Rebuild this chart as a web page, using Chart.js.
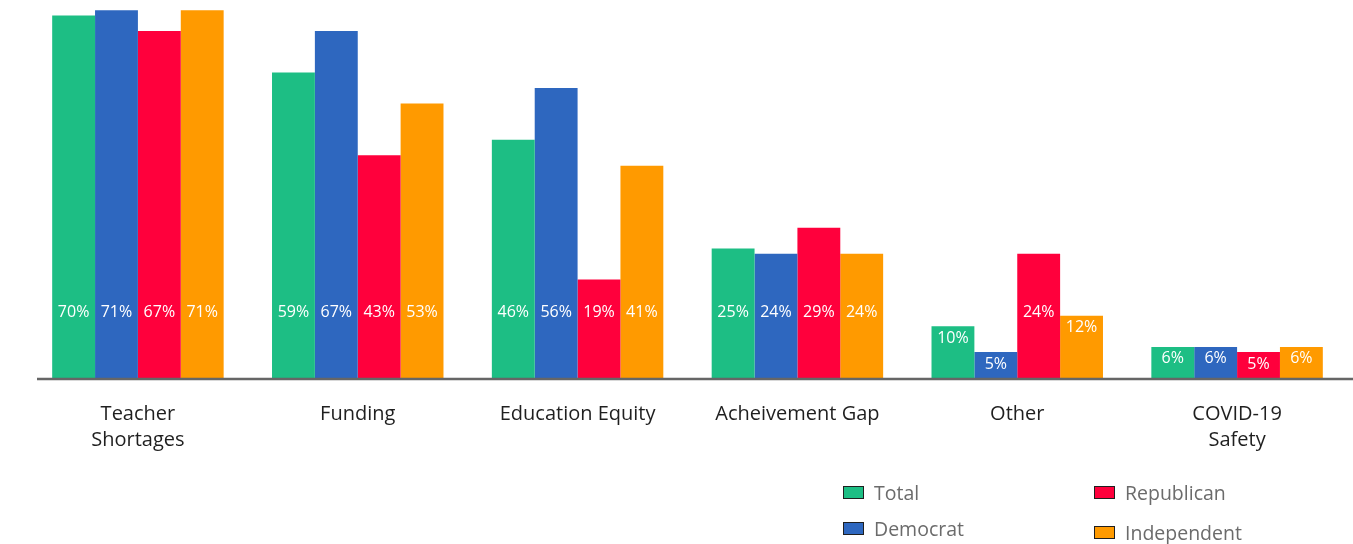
<!DOCTYPE html>
<html lang="en">
<head>
<meta charset="UTF-8" />
<title>Top Education Issues by Party</title>
<script src="https://cdn.jsdelivr.net/npm/chart.js"></script>
<style>
    body {
        margin: 0;
        background: #ffffff;
        font-family: "Open Sans", "Noto Sans", sans-serif;
    }

    .chart-wrap {
        position: relative;
        width: 1353px;
        height: 544px;
    }

    .legend-item {
        position: absolute;
        display: flex;
        align-items: center;
        font-size: 19.5px;
        color: #6b6b6b;
    }

    .legend-item span.swatch {
        display: inline-block;
        width: 19px;
        height: 11px;
        border: 1.5px solid #1f1f1f;
        margin-right: 10px;
    }
</style>
</head>
<body>
<div class="chart-wrap">
    <canvas id="issuesChart" width="1353" height="544"></canvas>
    <div id="legend"></div>
</div>

<script>
    const categories = [['Teacher', 'Shortages'], 'Funding', 'Education Equity', 'Acheivement Gap', 'Other', ['COVID-19', 'Safety']];
    const seriesNames = ['Total', 'Democrat', 'Republican', 'Independent'];
    const seriesColors = ['#1dbe84', '#2e67bf', '#ff003c', '#ff9a00'];

    const totalValues = [70, 59, 46, 25, 10, 6];
    const democratValues = [71, 67, 56, 24, 5, 6];
    const republicanValues = [67, 43, 19, 29, 24, 5];
    const independentValues = [71, 53, 41, 24, 12, 6];

    const allValues = [totalValues, democratValues, republicanValues, independentValues];

    // legend spots (left, top) for the 2x2 block under the chart
    const legendSpots = [[843, 479], [843, 515], [1094, 479], [1094, 519]];

    const legendBox = document.getElementById('legend');
    seriesNames.forEach((name, i) => {
        const item = document.createElement('div');
        item.className = 'legend-item';
        item.style.left = legendSpots[i][0] + 'px';
        item.style.top = legendSpots[i][1] + 'px';
        item.innerHTML = `<span class="swatch" style="background:${seriesColors[i]}"></span>${name}`;
        legendBox.appendChild(item);
    });

    // white percent labels inside each bar, plus the baseline rule
    const barLabels = {
        id: 'barLabels',
        afterDatasetsDraw(chart) {
            const ctx = chart.ctx;
            const base = chart.scales.y.getPixelForValue(0);
            ctx.save();
            ctx.strokeStyle = '#666666';
            ctx.lineWidth = 2.5;
            ctx.beginPath();
            ctx.moveTo(37, base + 1);
            ctx.lineTo(chart.width, base + 1);
            ctx.stroke();

            ctx.fillStyle = '#ffffff';
            ctx.font = '16px "Open Sans", "Noto Sans", sans-serif';
            ctx.textAlign = 'center';
            ctx.textBaseline = 'middle';
            chart.data.datasets.forEach((ds, di) => {
                chart.getDatasetMeta(di).data.forEach((bar, i) => {
                    const y = Math.max(base - 66, bar.y + 12);
                    ctx.fillText(ds.data[i] + '%', bar.x, y);
                });
            });
            ctx.restore();
        }
    };

    new Chart(document.getElementById('issuesChart'), {
        type: 'bar',
        data: {
            labels: categories,
            datasets: seriesNames.map((name, i) => ({
                label: name,
                data: allValues[i],
                backgroundColor: seriesColors[i],
                borderWidth: 0,
                barPercentage: 1,
                categoryPercentage: 0.78
            }))
        },
        options: {
            responsive: false,
            animation: false,
            layout: {
                padding: { left: 28, right: 6, top: 0, bottom: 0 }
            },
            plugins: {
                legend: { display: false },
                tooltip: { enabled: false }
            },
            scales: {
                x: {
                    grid: { display: false },
                    border: { display: false },
                    ticks: {
                        color: '#1f1f1f',
                        padding: 15,
                        maxRotation: 0,
                        font: { family: '"Open Sans", "Noto Sans", sans-serif', size: 20, lineHeight: 1.3 }
                    },
                    afterFit(scale) {
                        scale.height = 166;
                    }
                },
                y: {
                    display: false,
                    min: 0,
                    max: 73
                }
            }
        },
        plugins: [barLabels]
    });
</script>
</body>
</html>
